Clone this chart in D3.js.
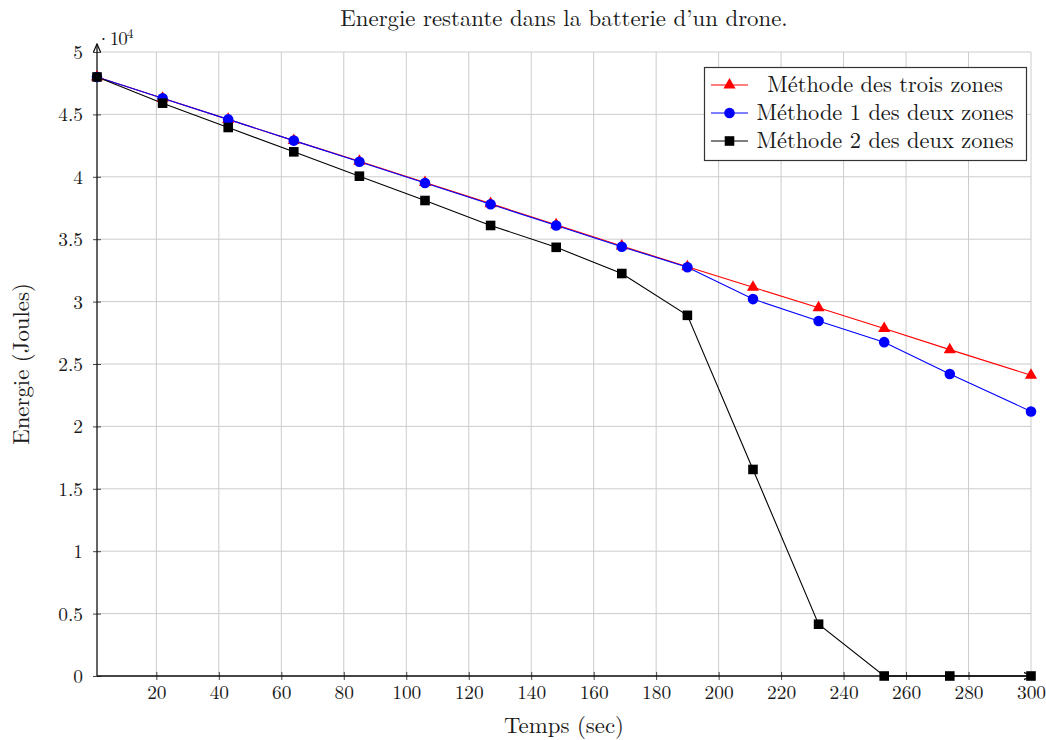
<!DOCTYPE html>
<html><head><meta charset="utf-8">
<script src="https://cdn.jsdelivr.net/npm/d3@7"></script>
<style>body{margin:0;background:#fff}svg{display:block}text{fill:#1a1a1a}</style>
</head><body><svg id="c" width="1046" height="740"></svg>
<script>
const times = [1, 22, 43, 64, 85, 106, 127, 148, 169, 190, 211, 232, 253, 274, 300];
const troisZones = [48000, 46300, 44600, 42900, 41250, 39550, 37850, 36150, 34450, 32800, 31150, 29500, 27850, 26150, 24100];
const deuxZones1 = [48000, 46300, 44600, 42900, 41200, 39500, 37800, 36100, 34400, 32750, 30200, 28450, 26750, 24200, 21200];
const deuxZones2 = [48000, 45900, 43950, 42000, 40050, 38100, 36100, 34350, 32250, 28900, 16550, 4150, 0, 0, 0];
const xTicks = [20, 40, 60, 80, 100, 120, 140, 160, 180, 200, 220, 240, 260, 280, 300];
const yTicks = [0, 5000, 10000, 15000, 20000, 25000, 30000, 35000, 40000, 45000, 50000];
const seriesNames = ["Méthode des trois zones", "Méthode 1 des deux zones", "Méthode 2 des deux zones"];
const title = "Energie restante dans la batterie d\u2019un drone.";
const xLabel = "Temps (sec)";
const yLabel = "Energie (Joules)";

const FONT = '"Latin Modern Roman","Liberation Serif",serif';

const series = [
  {name: seriesNames[0], values: troisZones, color: "#ff0000", symbol: d3.symbolTriangle, size: 64},
  {name: seriesNames[1], values: deuxZones1, color: "#0000ff", symbol: d3.symbolCircle, size: 88},
  {name: seriesNames[2], values: deuxZones2, color: "#000000", symbol: d3.symbolSquare, size: 92}
];

const svg = d3.select("#c").attr("font-family", FONT);
const L = 97, R = 1031, T = 52, B = 676;
const x = d3.scaleLinear().domain([1, 300]).range([L, R]);
const y = d3.scaleLinear().domain([0, 50000]).range([B, T]);

// grid
const g = svg.append("g");
g.selectAll(".gx").data(xTicks).enter().append("line")
  .attr("x1", d => x(d)).attr("x2", d => x(d)).attr("y1", T).attr("y2", B)
  .attr("stroke", "#cccccc").attr("stroke-width", 1);
g.selectAll(".gy").data(yTicks).enter().append("line")
  .attr("x1", L).attr("x2", R).attr("y1", d => y(d)).attr("y2", d => y(d))
  .attr("stroke", "#cccccc").attr("stroke-width", 1);

// axes via d3
const fmtY = d => d3.format("~g")(d / 10000);
const xAxis = svg.append("g").attr("transform", `translate(0,${B})`)
  .call(d3.axisBottom(x).tickValues(xTicks).tickSize(4).tickSizeOuter(0));
const yAxis = svg.append("g").attr("transform", `translate(${L},0)`)
  .call(d3.axisLeft(y).tickValues(yTicks).tickFormat(fmtY).tickSize(4).tickSizeOuter(0));
[xAxis, yAxis].forEach(a => {
  a.attr("font-family", FONT).attr("font-size", 19.4);
  a.select(".domain").remove();
  a.selectAll("text").style("font-size", "19.4px").attr("fill", "#1a1a1a").style("font-family", FONT);
  a.selectAll(".tick line").attr("stroke", "#444");
});
xAxis.selectAll(".tick line").attr("y1", -4);
xAxis.selectAll(".tick text").attr("y", 23).attr("dy", 0);
yAxis.selectAll(".tick line").attr("x2", 4).attr("x1", -4);
yAxis.selectAll(".tick text").attr("x", -14).attr("dy", "0.33em");

// axis lines with arrows
svg.append("defs").append("marker").attr("id", "arr").attr("viewBox", "0 0 10 10")
  .attr("refX", 9).attr("refY", 5).attr("markerWidth", 7).attr("markerHeight", 7)
  .attr("orient", "auto").append("path").attr("d", "M0,1 L9,5 L0,9").attr("fill", "none").attr("stroke", "#111").attr("stroke-width", 1.4);
svg.append("line").attr("x1", L).attr("x2", R + 1).attr("y1", B).attr("y2", B)
  .attr("stroke", "#111").attr("stroke-width", 1.3).attr("marker-end", "url(#arr)");
svg.append("line").attr("x1", L).attr("x2", L).attr("y1", B).attr("y2", T - 8)
  .attr("stroke", "#111").attr("stroke-width", 1.3).attr("marker-end", "url(#arr)");

// series
const line = d3.line().x((d, i) => x(times[i])).y(d => y(d));
series.forEach(s => {
  svg.append("path").datum(s.values).attr("d", line)
    .attr("fill", "none").attr("stroke", s.color).attr("stroke-width", 1.1);
});
series.forEach(s => {
  svg.selectAll(null).data(s.values).enter().append("path")
    .attr("d", d3.symbol().type(s.symbol).size(s.size))
    .attr("transform", (d, i) => `translate(${x(times[i])},${y(d)})`)
    .attr("fill", s.color);
});

// multiplier label
const m = svg.append("text").attr("x", 96).attr("y", 45).style("font-size", "19px")
  .style("font-family", FONT).style("letter-spacing", "-1px");
m.append("tspan").text("\u00b710");
m.append("tspan").attr("dy", -7).style("font-size", "13.5px").text("4");

// title & labels
svg.append("text").attr("x", (L + R) / 2).attr("y", 26).attr("text-anchor", "middle")
  .style("font-size", "22.8px").style("font-family", FONT).text(title);
svg.append("text").attr("x", (L + R) / 2).attr("y", 733).attr("text-anchor", "middle")
  .style("font-size", "22.8px").style("font-family", FONT).text(xLabel);
svg.append("text").attr("transform", `translate(29,${(T + B) / 2}) rotate(-90)`).attr("text-anchor", "middle")
  .style("font-size", "22.8px").style("font-family", FONT).text(yLabel);

// legend
const lg = svg.append("g");
lg.append("rect").attr("x", 704.5).attr("y", 67.5).attr("width", 322).attr("height", 93)
  .attr("fill", "#fff").attr("stroke", "#333").attr("stroke-width", 1.2);
series.forEach((s, i) => {
  const yy = 85 + i * 28;
  lg.append("line").attr("x1", 711).attr("x2", 748).attr("y1", yy).attr("y2", yy)
    .attr("stroke", s.color).attr("stroke-width", 1.1);
  lg.append("path").attr("d", d3.symbol().type(s.symbol).size(s.size)())
    .attr("transform", `translate(729.5,${yy})`).attr("fill", s.color);
  lg.append("text").attr("x", 885).attr("y", yy + 7).attr("text-anchor", "middle")
    .style("font-size", "22.4px").style("font-family", FONT).text(s.name);
});
</script></body></html>
